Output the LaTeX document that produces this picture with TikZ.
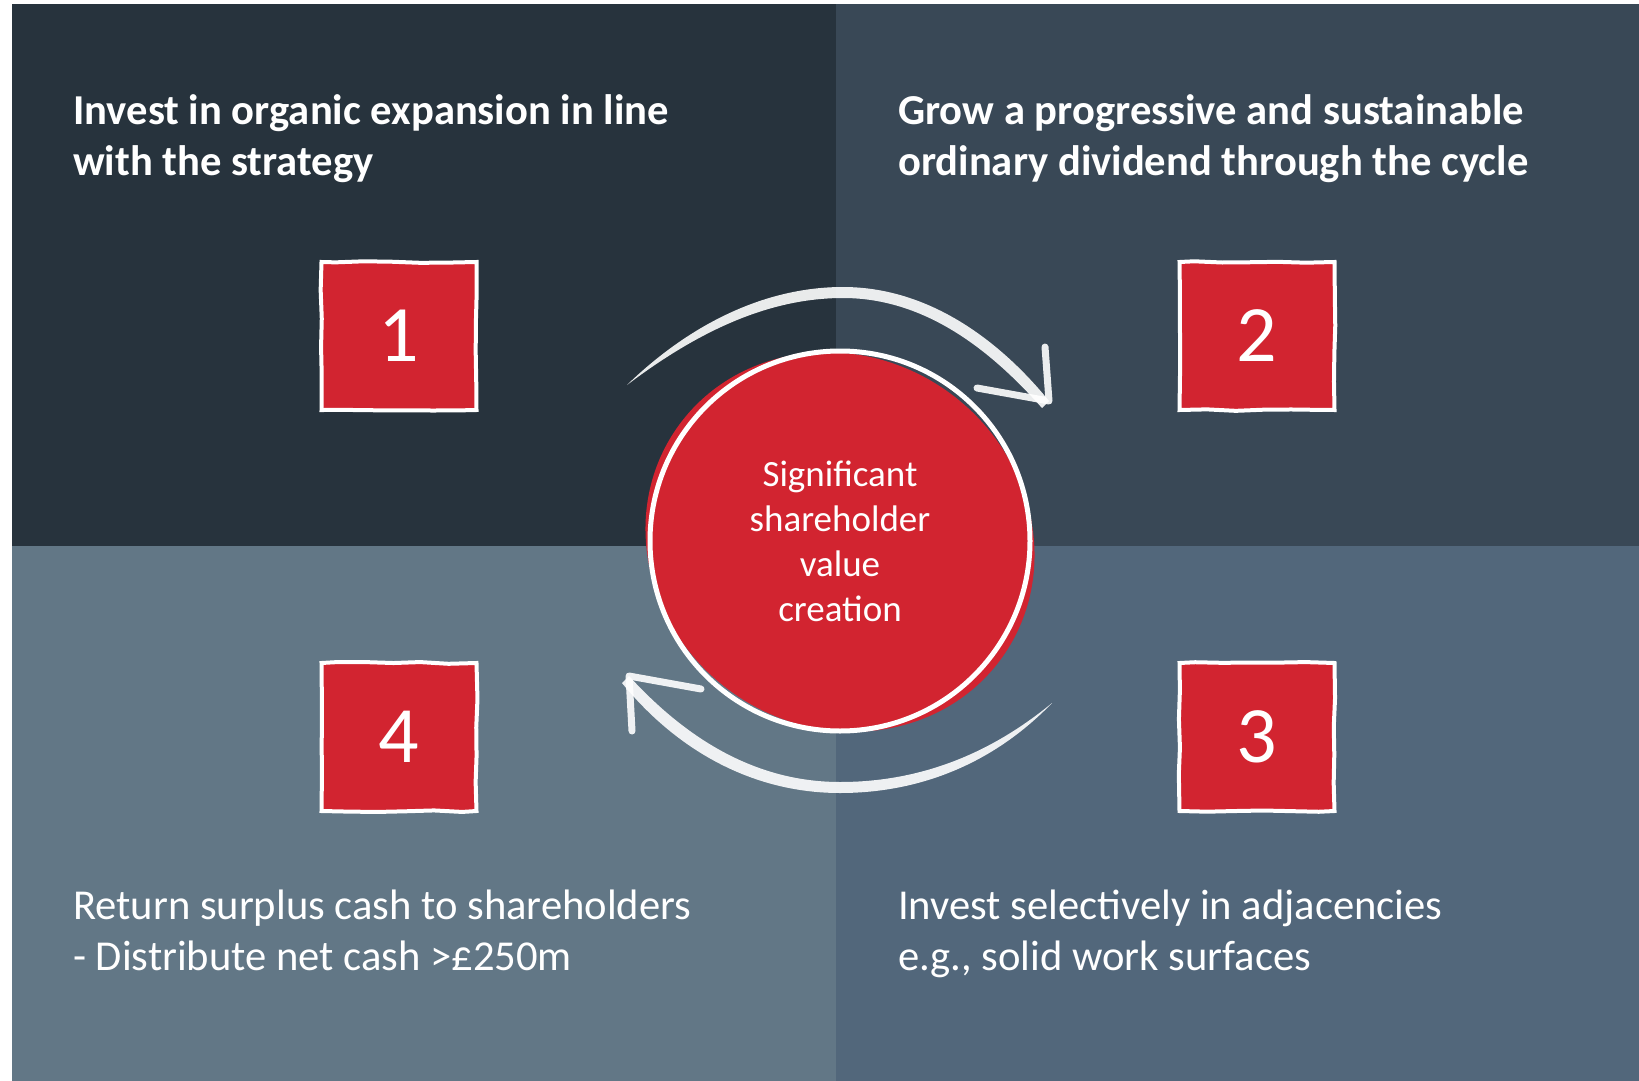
\documentclass[tikz,border=0pt]{standalone}
\usepackage{fontspec}
\setmainfont{Carlito}
\usetikzlibrary{decorations.pathmorphing}

\definecolor{panelnw}{HTML}{27333D}
\definecolor{panelne}{HTML}{394856}
\definecolor{panelsw}{HTML}{627786}
\definecolor{panelse}{HTML}{52677B}
\definecolor{brandred}{HTML}{D22430}

\tikzset{
  numbox/.style={fill=brandred, draw=white, line width=4pt, text=white,
    minimum width=155pt, minimum height=148pt, inner sep=0pt,
    font=\fontsize{80}{80}\selectfont,
    decorate, decoration={random steps, segment length=28pt, amplitude=1pt}},
  headline/.style={text=white, anchor=base west, align=left, inner sep=0pt,
    font=\bfseries\fontsize{42.6}{51}\selectfont},
  bodyline/.style={text=white, anchor=base west, align=left, inner sep=0pt,
    font=\fontsize{42.6}{51}\selectfont},
  chalk/.style={fill=white, opacity=.9},
  barb/.style={draw=white, line width=7pt, line cap=round, line join=round, opacity=.9}
}

\begin{document}
\begin{tikzpicture}[x=1pt, y=1pt]
\pgfmathsetseed{11}
\useasboundingbox (0,0) rectangle (1639,-1081);
\fill[white] (0,0) rectangle (1639,-1081);

% four panels
\fill[panelnw] (12,-4) rectangle (836,-546);
\fill[panelne] (836,-4) rectangle (1639,-546);
\fill[panelsw] (12,-546) rectangle (836,-1081);
\fill[panelse] (836,-546) rectangle (1639,-1081);

% captions (base = last line)
\node[headline] (goal1) at (73,-175) {Invest in organic expansion in line\\with the strategy};
\node[headline] (goal2) at (898,-175) {Grow a progressive and sustainable\\ordinary dividend through the cycle};
\node[bodyline] (goal4) at (73,-970) {Return surplus cash to shareholders\\- Distribute net cash >£250m};
\node[bodyline] (goal3) at (898,-970) {Invest selectively in adjacencies\\e.g., solid work surfaces};

% numbered boxes
\node[numbox] (sq1) at (399,-336) {1};
\node[numbox] (sq2) at (1257,-336) {2};
\node[numbox] (sq3) at (1257,-737) {3};
\node[numbox] (sq4) at (399,-737) {4};

% centre disc
\fill[brandred, rotate around={-35:(840,-542)}] (840,-542) ellipse [x radius=199, y radius=185];
\node[circle, draw=white, line width=5pt, minimum size=380pt, inner sep=0pt,
  text=white, align=center, font=\fontsize{37}{45}\selectfont] (core) at (840,-541)
  {Significant\\shareholder\\value\\creation};

% upper arrow, 1 -> 2
\coordinate (topS) at (627,-385);
\coordinate (topT) at (1049,-401);
\fill[chalk] (topS) .. controls (690,-324) and (765,-287) .. (843,-287)
  .. controls (930,-287) and (1001,-342) .. (topT)
  -- (1042,-408) .. controls (994,-354) and (928,-298) .. (843,-298)
  .. controls (768,-298) and (697,-332) .. cycle;
\draw[barb] (1045,-347) -- (topT) -- (977,-388);

% lower arrow, 3 -> 4
\coordinate (botS) at (1052,-703);
\coordinate (botT) at (629,-676);
\fill[chalk] (botS) .. controls (990,-754) and (920,-782) .. (840,-782)
  .. controls (752,-782) and (683,-735) .. (botT)
  -- (622,-683) .. controls (675,-748) and (750,-793) .. (840,-793)
  .. controls (922,-793) and (995,-762) .. cycle;
\draw[barb] (632,-731) -- (botT) -- (701,-689);
\end{tikzpicture}
\end{document}
